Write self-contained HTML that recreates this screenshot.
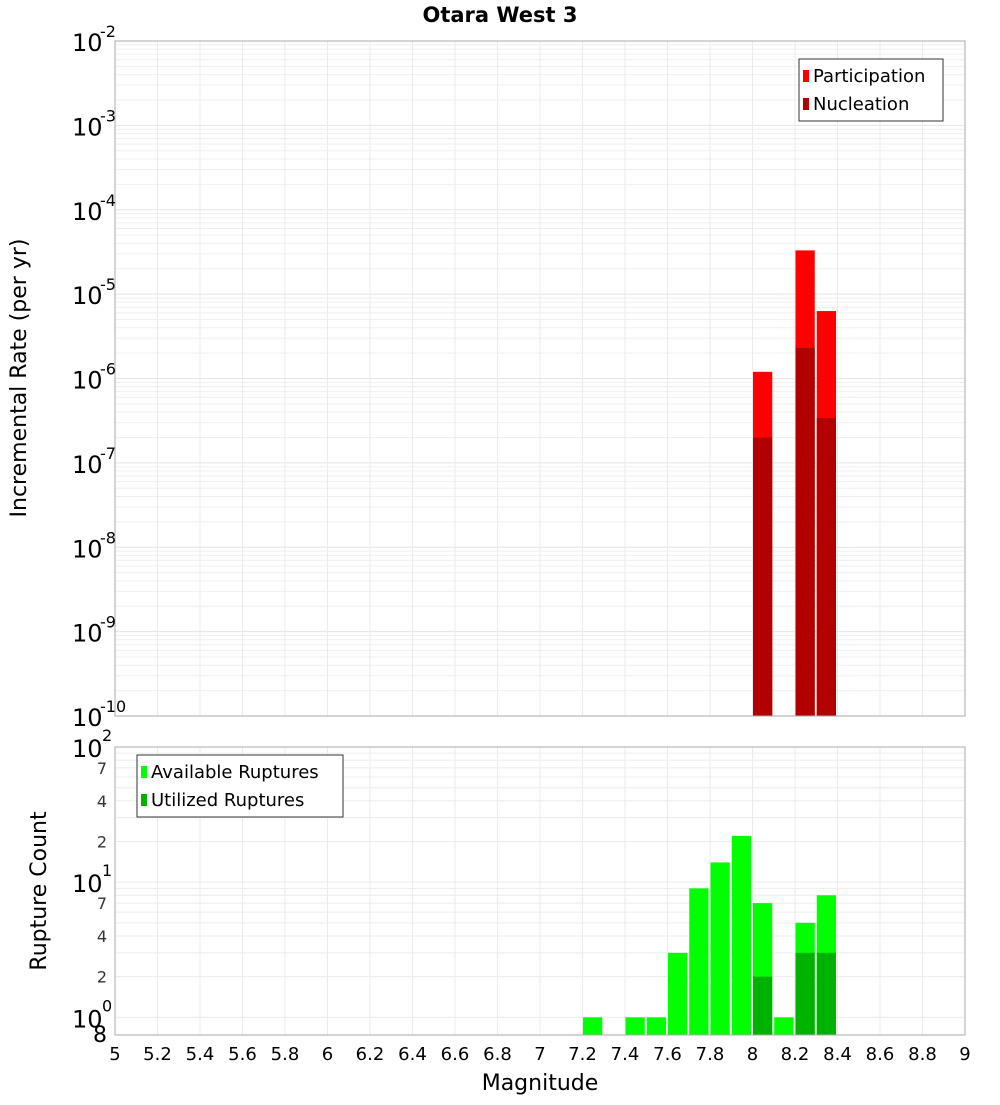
<!DOCTYPE html>
<html><head><meta charset="utf-8"><style>
body{margin:0;background:#fff;}
text{font-family:"DejaVu Sans","Liberation Sans",sans-serif;}
</style></head><body>
<svg id="c" width="1000" height="1100" xmlns="http://www.w3.org/2000/svg">
<text x="500" y="22" text-anchor="middle" font-size="21" font-weight="bold">Otara West 3</text>
<g id="topPlot"></g>
<g id="botPlot"></g>
<text transform="translate(26,378) rotate(-90)" text-anchor="middle" font-size="22">Incremental Rate (per yr)</text>
<text transform="translate(46,891) rotate(-90)" text-anchor="middle" font-size="22">Rupture Count</text>
<text x="540" y="1090" text-anchor="middle" font-size="22">Magnitude</text>
</svg>
<script>
const mags=[7.25,7.45,7.55,7.65,7.75,7.85,7.95,8.05,8.15,8.25,8.35];
const available=[1,1,1,3,9,14,22,7,1,5,8];
const utilized=[0,0,0,0,0,0,0,2,0,3,3];
const rateMags=[8.05,8.25,8.35];
const participation=[1.2e-6,3.3e-5,6.3e-6];
const nucleation=[2e-7,2.3e-6,3.4e-7];
const xTicks=[5,5.2,5.4,5.6,5.8,6,6.2,6.4,6.6,6.8,7,7.2,7.4,7.6,7.8,8,8.2,8.4,8.6,8.8,9];
const topExps=[-10,-9,-8,-7,-6,-5,-4,-3,-2];
const botMinor=[2,4,7,20,40,70];

const NS="http://www.w3.org/2000/svg";
const L=115,R=965,T1=41,B1=716,T2=747,B2=1035;
const xs=m=>L+(m-5)/4*(R-L);
const yTop=v=>B1-(Math.log10(v)+10)/8*(B1-T1);
const bMin=Math.log10(0.74),bMax=2;
const yBot=v=>B2-(Math.log10(v)-bMin)/(bMax-bMin)*(B2-T2);
function el(p,t,a){const e=document.createElementNS(NS,t);for(const k in a)e.setAttribute(k,a[k]);p.appendChild(e);return e;}
const topG=document.getElementById('topPlot'),botG=document.getElementById('botPlot');
const bw=(xs(5.1)-xs(5))-2;

for(let e=-10;e<-2;e++)for(let k=1;k<10;k++){const y=yTop(k*Math.pow(10,e));
const g=el(topG,'line',{x1:L,x2:R,y1:y,y2:y,stroke:k==1?'#e4e4e4':'#efefef','stroke-width':1});

}
for(const t of xTicks){for(const [p,T,B] of [[topG,T1,B1],[botG,T2,B2]]){const g=el(p,'line',{x1:xs(t),x2:xs(t),y1:T,y2:B,stroke:'#ebebeb'});

}}
for(let e=0;e<2;e++)for(let k=1;k<10;k++){const v=k*Math.pow(10,e);const y=yBot(v);
const g=el(botG,'line',{x1:L,x2:R,y1:y,y2:y,stroke:'#ececec'});

}

rateMags.forEach((m,i)=>{
const x=xs(m)-bw/2-0.5;
let r=el(topG,'rect',{x:x,y:yTop(participation[i]),width:bw,height:B1-yTop(participation[i]),fill:'#ff0000'});


r=el(topG,'rect',{x:x,y:yTop(nucleation[i]),width:bw,height:B1-yTop(nucleation[i]),fill:'#b20000'});


});
mags.forEach((m,i)=>{
const x=xs(m)-bw/2-0.5;
let r=el(botG,'rect',{x:x,y:yBot(available[i]),width:bw,height:B2-yBot(available[i]),fill:'#00ff00'});


if(utilized[i]>0){r=el(botG,'rect',{x:x,y:yBot(utilized[i]),width:bw,height:B2-yBot(utilized[i]),fill:'#00b200'});

}
});
for(const [p,T,B] of [[topG,T1,B1],[botG,T2,B2]]){const f=el(p,'rect',{x:L,y:T,width:R-L,height:B-T,fill:'none',stroke:'#aaa'});

}
topExps.forEach(e=>{const y=yTop(Math.pow(10,e));
const t=el(topG,'text',{x:72,y:y+10,'font-size':24});


t.textContent='10';
const s=el(topG,'text',{x:100,y:y-4,'font-size':16});


s.textContent=String(e);});
[[100,'2'],[10,'1'],[1,'0']].forEach(([v,ex])=>{const y=yBot(v);
const t=el(botG,'text',{x:72,y:y+10,'font-size':24});


t.textContent='10';
const s=el(botG,'text',{x:102,y:y-6,'font-size':16});


s.textContent=ex;});
botMinor.forEach(v=>{const t=el(botG,'text',{x:107,y:yBot(v)+6,'font-size':16,'text-anchor':'end',fill:'#333'});


t.textContent=String(v).charAt(0);});
{const t=el(botG,'text',{x:107,y:B2+7,'font-size':22,'text-anchor':'end'});


t.textContent='8';}
xTicks.forEach(v=>{const t=el(botG,'text',{x:xs(v),y:1060,'font-size':18,'text-anchor':'middle'});


t.textContent=String(v);});
function legend(p,x,y,w,items,name){const g=el(p,'g',{});


el(g,'rect',{x:x,y:y,width:w,height:items.length*28+6,fill:'#fff',stroke:'#333'});
items.forEach(([lab,c],i)=>{el(g,'rect',{x:x+4,y:y+11+i*28,width:6,height:12,fill:c});
const t=el(g,'text',{x:x+14,y:y+23+i*28,'font-size':18});t.textContent=lab;});}
legend(topG,799,59,144,[['Participation','#ff0000'],['Nucleation','#b20000']],'legend-top');
legend(botG,137,755,206,[['Available Ruptures','#00ff00'],['Utilized Ruptures','#00b200']],'legend-bottom');
</script>
</body></html>
